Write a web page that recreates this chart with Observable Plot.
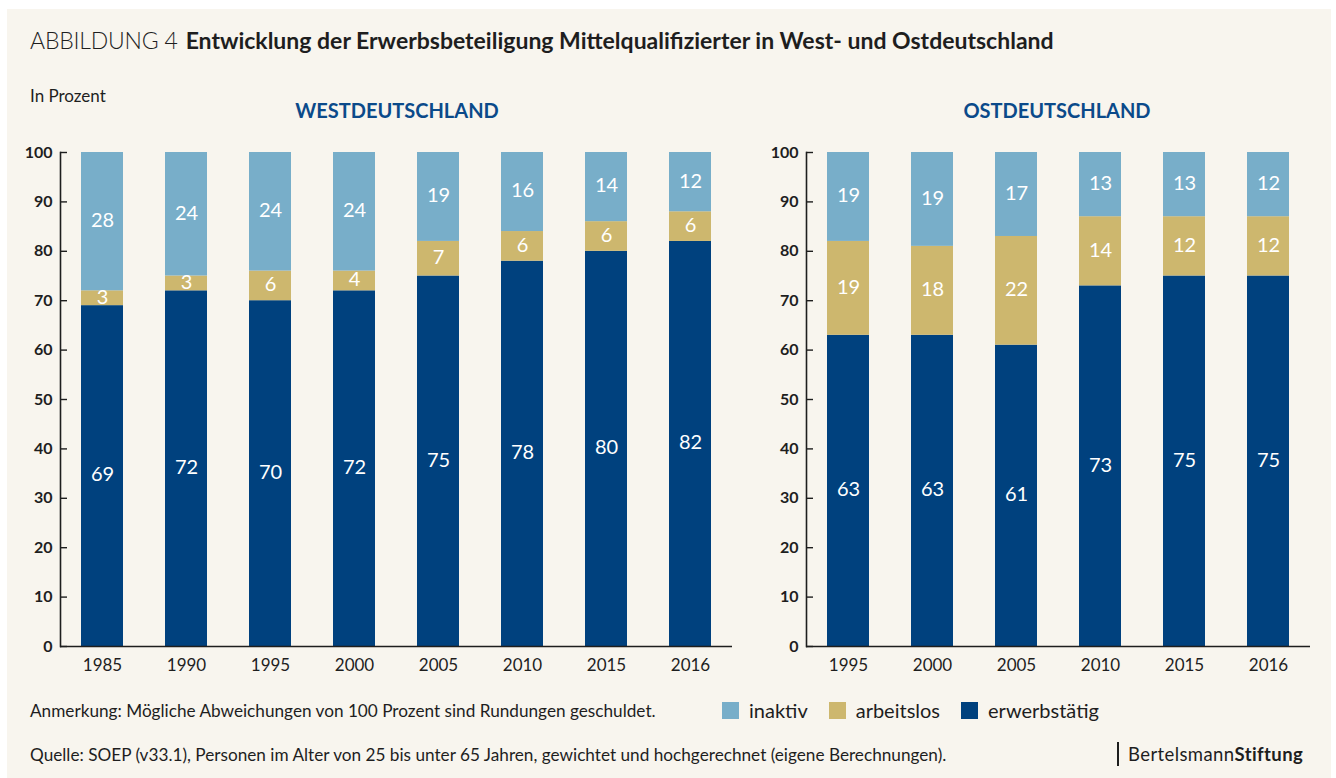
<!DOCTYPE html>
<html>
<head>
<meta charset="utf-8">
<script src="https://cdn.jsdelivr.net/npm/d3@7"></script>
<script src="https://cdn.jsdelivr.net/npm/@observablehq/plot@0.6"></script>
<style>
  html, body { margin: 0; padding: 0; background: #ffffff; }
  #page { position: relative; width: 1336px; height: 778px; overflow: hidden; font-family: Lato, "Open Sans", sans-serif; color: #1e1e1e; }
  #bg { position: absolute; left: 7px; top: 9px; width: 1324px; height: 769px; background: #f8f5ee; }
  .abs { position: absolute; white-space: nowrap; }
  #title { left: 30px; top: 29px; font-size: 23px; line-height: 23px; }
  #title .lab { font-weight: 300; letter-spacing: -0.2px; margin-right: 8px; }
  #title .main { font-weight: 700; }
  #unit { left: 30px; top: 87px; font-size: 17px; line-height: 17px; }
  .ptitle { top: 100px; font-size: 20px; line-height: 20px; font-weight: 700; color: #0b4a8a; transform: translateX(-50%); }
  #note { left: 30px; top: 702px; font-size: 17.2px; line-height: 17px; }
  #source { left: 30px; top: 746px; font-size: 17.2px; line-height: 17px; }
  #legend { left: 722px; top: 700px; font-size: 20px; line-height: 20px; display: flex; align-items: center; }
  #legend .it { display: flex; align-items: center; margin-right: 21px; }
  #legend .sw { width: 17px; height: 17px; margin-right: 10px; }
  #brand { left: 1117px; top: 742px; height: 24px; border-left: 2px solid #1e1e1e; padding-left: 9px; font-size: 18.5px; line-height: 24px; letter-spacing: 0.4px; }
  #brand b { font-weight: 700; }
  svg { overflow: visible; }
</style>
</head>
<body>
<div id="page">
  <div id="bg"></div>
  <div id="title" class="abs"><span class="lab">ABBILDUNG 4</span><span class="main">Entwicklung der Erwerbsbeteiligung Mittelqualifizierter in West- und Ostdeutschland</span></div>
  <div id="unit" class="abs">In Prozent</div>
  <div id="t-west" class="abs ptitle" style="left:397px">WESTDEUTSCHLAND</div>
  <div id="t-east" class="abs ptitle" style="left:1057px">OSTDEUTSCHLAND</div>
  <div id="west" class="abs" style="left:0px; top:140px"></div>
  <div id="east" class="abs" style="left:746px; top:140px"></div>
  <div id="note" class="abs">Anmerkung: Mögliche Abweichungen von 100 Prozent sind Rundungen geschuldet.</div>
  <div id="legend" class="abs"></div>
  <div id="source" class="abs">Quelle: SOEP (v33.1), Personen im Alter von 25 bis unter 65 Jahren, gewichtet und hochgerechnet (eigene Berechnungen).</div>
  <div id="brand" class="abs">Bertelsmann<b>Stiftung</b></div>
</div>
<script>
// ---- data ----
const categories = ["inaktiv", "arbeitslos", "erwerbstätig"];
const colors = ["#78aec9", "#cdb76e", "#00417e"];

const westYears = ["1985", "1990", "1995", "2000", "2005", "2010", "2015", "2016"];
const westErwerbstaetig = [69, 72, 70, 72, 75, 78, 80, 82];
const westArbeitslos = [3, 3, 6, 4, 7, 6, 6, 6];
const westInaktiv = [28, 24, 24, 24, 19, 16, 14, 12];

const eastYears = ["1995", "2000", "2005", "2010", "2015", "2016"];
const eastErwerbstaetig = [63, 63, 61, 73, 75, 75];
const eastArbeitslos = [19, 18, 22, 14, 12, 12];
const eastInaktiv = [19, 19, 17, 13, 13, 12];

const yTicks = [0, 10, 20, 30, 40, 50, 60, 70, 80, 90, 100];
const yMax = 100;

// ---- build stacked segments (inaktiv fills up to 100) ----
function segments(years, e, a, i) {
  const rows = [];
  years.forEach((year, k) => {
    const top1 = e[k];
    const top2 = Math.min(yMax, e[k] + a[k]);
    rows.push({year, cat: "erwerbstätig", y1: 0, y2: top1, value: e[k]});
    rows.push({year, cat: "arbeitslos", y1: top1, y2: top2, value: a[k]});
    rows.push({year, cat: "inaktiv", y1: top2, y2: yMax, value: i[k]});
  });
  return rows;
}

function panel(years, rows, width, marginRight) {
  return Plot.plot({
    width,
    height: 540,
    marginTop: 12,
    marginBottom: 34,
    marginLeft: 60,
    marginRight,
    style: {background: "transparent", fontFamily: "Lato, sans-serif", color: "#1e1e1e"},
    x: {type: "band", domain: years, paddingInner: 0.5, paddingOuter: 0.25, label: null},
    y: {domain: [0, yMax], label: null},
    color: {domain: categories, range: colors},
    marks: [
      Plot.barY(rows, {x: "year", y1: "y1", y2: "y2", fill: "cat", inset: 0}),
      Plot.text(rows, {x: "year", y: d => (d.y1 + d.y2) / 2, text: "value", fill: "white", fontSize: 20, fontWeight: 400, dy: -1}),
      Plot.axisY({ticks: yTicks, tickSize: -7, tickPadding: 15, fontSize: 16, fontWeight: 700, stroke: "#1e1e1e", strokeWidth: 1.4, label: null}),
      Plot.axisX({tickSize: 0, tickPadding: 12, fontSize: 17, label: null}),
      Plot.frame({anchor: "left", stroke: "#1e1e1e", strokeWidth: 1.6}),
      Plot.ruleY([0], {stroke: "#1e1e1e", strokeWidth: 1.6})
    ]
  });
}

document.getElementById("west").appendChild(
  panel(westYears, segments(westYears, westErwerbstaetig, westArbeitslos, westInaktiv), 750, 18)
);
document.getElementById("east").appendChild(
  panel(eastYears, segments(eastYears, eastErwerbstaetig, eastArbeitslos, eastInaktiv), 590, 26)
);

// ---- legend ----
const legend = document.getElementById("legend");
categories.forEach((c, k) => {
  const it = document.createElement("div");
  it.className = "it";
  const sw = document.createElement("div");
  sw.className = "sw";
  sw.style.background = colors[k];
  const tx = document.createElement("span");
  tx.textContent = c;
  it.appendChild(sw);
  it.appendChild(tx);
  legend.appendChild(it);
});
</script>
</body>
</html>
